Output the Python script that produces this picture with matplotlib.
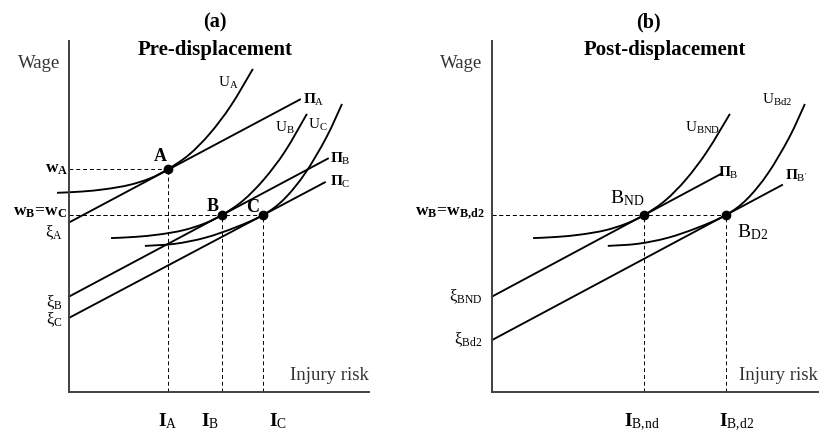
import numpy as np
import matplotlib
matplotlib.use('Agg')
import matplotlib.pyplot as plt
from matplotlib.path import Path
from matplotlib.patches import PathPatch

###############################################################################
# Data (x = injury risk, y = wage, arbitrary units, origin at axes corner)
###############################################################################

# panel (a) - pre-displacement
I_pre = [33.0, 51.0, 64.7]          # I_A, I_B, I_C
w_pre = [74.3, 59.0, 59.0]          # w_A, w_B, w_C

# iso-profit lines: (x0, y0, x1, y1)
PiA = [0.0, 56.5, 77.0, 97.5]
PiB = [0.0, 31.8, 86.3, 77.8]
PiC = [0.0, 24.7, 85.3, 69.9]

# indifference curves, points
UA_x = [-4.0, 4.0, 12.0, 20.0, 27.0, 33.0, 40.0, 47.0, 54.0, 61.3]
UA_y = [66.4, 66.8, 67.6, 69.0, 71.2, 74.3, 79.1, 86.2, 95.5, 107.7]
UB_x = [14.0, 22.0, 30.0, 38.0, 45.0, 51.0, 58.0, 65.0, 72.0, 79.3]
UB_y = [51.3, 51.7, 52.5, 53.9, 56.1, 59.0, 63.8, 70.9, 80.2, 92.7]
UC_x = [25.3, 35.3, 45.3, 55.3, 64.7, 71.7, 78.7, 85.7, 91.0]
UC_y = [48.7, 49.4, 51.4, 54.8, 59.0, 64.3, 72.9, 84.7, 96.0]

# panel (b) - post-displacement
I_post = [50.7, 78.0]               # I_B,nd, I_B,d2
w_post = [59.0, 59.0]

PiB2 = [0.0, 31.8, 76.7, 72.9]
PiBp = [0.0, 17.3, 96.7, 69.0]

UBND_x = [13.7, 21.7, 29.7, 37.7, 44.7, 50.7, 57.7, 64.7, 71.7, 79.3]
UBND_y = [51.3, 51.7, 52.5, 53.9, 56.1, 59.0, 63.8, 70.9, 80.2, 92.7]
UBd2_x = [38.6, 48.6, 58.6, 68.6, 78.0, 85.0, 92.0, 99.0, 104.3]
UBd2_y = [48.7, 49.4, 51.4, 54.8, 59.0, 64.3, 72.9, 84.7, 96.0]

###############################################################################
# Style
###############################################################################

plt.rcParams['font.family'] = ['Liberation Serif', 'DejaVu Serif']
plt.rcParams['mathtext.fontset'] = 'custom'
plt.rcParams['mathtext.rm'] = 'Liberation Serif'
plt.rcParams['mathtext.bf'] = 'Liberation Serif:bold'
plt.rcParams['mathtext.it'] = 'Liberation Serif:italic'

W, H = 823., 440.
lw = 1.35
axcol = '#404040'
gray = '#333333'
dash = (0, (4, 3))

fig = plt.figure(figsize=(W/100, H/100), dpi=100)

def make_ax(left, right):
    ax = fig.add_axes([left/W, (H-392)/H, (right-left)/W, 351/H])
    ax.set_xlim(0, (right-left)/3.)
    ax.set_ylim(0, 117)
    for s in ['top', 'right']:
        ax.spines[s].set_visible(False)
    for s in ['left', 'bottom']:
        ax.spines[s].set_color(axcol)
        ax.spines[s].set_linewidth(1.4)
    ax.set_xticks([])
    ax.set_yticks([])
    ax.patch.set_alpha(0)
    return ax

def line(ax, L):
    ax.plot([L[0], L[2]], [L[1], L[3]], color='k', lw=lw, clip_on=False)

def curve(ax, x, y):
    # smooth bezier path through the read points
    p = np.column_stack([x, y])
    verts = [p[0]]
    codes = [Path.MOVETO]
    for i in range(len(p)-1):
        p0 = p[i-1] if i > 0 else p[i]
        p3 = p[i+2] if i+2 < len(p) else p[i+1]
        verts += [p[i] + (p[i+1]-p0)/6., p[i+1] - (p3-p[i])/6., p[i+1]]
        codes += [Path.CURVE4]*3
    ax.add_patch(PathPatch(Path(verts, codes), fc='none', ec='k', lw=lw, clip_on=False))

def guides(ax, I, w):
    for xi, wi in zip(I, w):
        ax.plot([xi, xi], [0, wi], ls=dash, color='k', lw=0.7)
        ax.plot([0, xi], [wi, wi], ls=dash, color='k', lw=0.7)
    ax.plot(I, w, 'o', color='k', ms=6, clip_on=False, zorder=5)

###############################################################################
# Panel (a)
###############################################################################

ax1 = make_ax(69, 369)
guides(ax1, I_pre, w_pre)
for L in [PiA, PiB, PiC]:
    line(ax1, L)
curve(ax1, UA_x, UA_y)
curve(ax1, UB_x, UB_y)
curve(ax1, UC_x, UC_y)

ax1.text(-3, 109.5, 'Wage', ha='right', va='center', fontsize=13.5, color=gray)
ax1.text(100, 5.5, 'Injury risk', ha='right', va='center', fontsize=13.5, color=gray)
ax1.text(53, 103, r'$\mathrm{U}_{\mathrm{A}}$', ha='center', va='center', fontsize=11)
ax1.text(72, 88, r'$\mathrm{U}_{\mathrm{B}}$', ha='center', va='center', fontsize=11)
ax1.text(83, 89, r'$\mathrm{U}_{\mathrm{C}}$', ha='center', va='center', fontsize=11)
ax1.text(78, 97.3, r'$\mathbf{Π}_{\mathrm{A}}$', ha='left', va='center', fontsize=11)
ax1.text(87, 77.7, r'$\mathbf{Π}_{\mathrm{B}}$', ha='left', va='center', fontsize=11)
ax1.text(87, 70.0, r'$\mathbf{Π}_{\mathrm{C}}$', ha='left', va='center', fontsize=11)
ax1.text(30.3, 78.5, 'A', ha='center', va='center', fontsize=13, fontweight='bold')
ax1.text(48.0, 61.8, 'B', ha='center', va='center', fontsize=13, fontweight='bold')
ax1.text(61.3, 61.5, 'C', ha='center', va='center', fontsize=13, fontweight='bold')
ax1.text(-0.3, 74.5, r'$\mathbf{w}_{\mathbf{A}}$', ha='right', va='center', fontsize=12.5)
ax1.text(-0.5, 60.0, r'$\mathbf{w}_{\mathbf{B}}\!\mathbf{=}\!\mathbf{w}_{\mathbf{C}}$',
         ha='right', va='center', fontsize=12.5)
ax1.text(-2, 53, r'$\mathrm{ξ}_{\mathrm{A}}$', ha='right', va='center', fontsize=12)
ax1.text(-2, 29.7, r'$\mathrm{ξ}_{\mathrm{B}}$', ha='right', va='center', fontsize=12)
ax1.text(-2, 24.0, r'$\mathrm{ξ}_{\mathrm{C}}$', ha='right', va='center', fontsize=12)
ax1.text(33, -9.7, r'$\mathbf{I}_{\mathrm{A}}$', ha='center', va='center', fontsize=14)
ax1.text(47, -9.7, r'$\mathbf{I}_{\mathrm{B}}$', ha='center', va='center', fontsize=14)
ax1.text(69.7, -9.7, r'$\mathbf{I}_{\mathrm{C}}$', ha='center', va='center', fontsize=14)

###############################################################################
# Panel (b)
###############################################################################

ax2 = make_ax(492, 818)
guides(ax2, I_post, w_post)
line(ax2, PiB2)
line(ax2, PiBp)
curve(ax2, UBND_x, UBND_y)
curve(ax2, UBd2_x, UBd2_y)

ax2.text(-3.3, 109.5, 'Wage', ha='right', va='center', fontsize=13.5, color=gray)
ax2.text(108.7, 5.5, 'Injury risk', ha='right', va='center', fontsize=13.5, color=gray)
ax2.text(70.3, 88, r'$\mathrm{U}_{\mathrm{BND}}$', ha='center', va='center', fontsize=11)
ax2.text(95, 97.3, r'$\mathrm{U}_{\mathrm{Bd2}}$', ha='center', va='center', fontsize=11)
ax2.text(75.3, 73, r'$\mathbf{Π}_{\mathrm{B}}$', ha='left', va='center', fontsize=11)
ax2.text(97.7, 72, r"$\mathbf{Π}_{\mathrm{B'}}$", ha='left', va='center', fontsize=11)
ax2.text(45, 64.7, r'$\mathrm{B}_{\mathrm{ND}}$', ha='center', va='center', fontsize=14)
ax2.text(87, 53.3, r'$\mathrm{B}_{\mathrm{D2}}$', ha='center', va='center', fontsize=14)
ax2.text(-2.3, 59.7, r'$\mathbf{w}_{\mathbf{B}}\!\mathbf{=}\!\mathbf{w}_{\mathbf{B{,}d2}}$',
         ha='right', va='center', fontsize=12.5)
ax2.text(-3.3, 31.7, r'$\mathrm{ξ}_{\mathrm{BND}}$', ha='right', va='center', fontsize=12)
ax2.text(-3.3, 17.3, r'$\mathrm{ξ}_{\mathrm{Bd2}}$', ha='right', va='center', fontsize=12)
ax2.text(50, -10, r'$\mathbf{I}_{\mathrm{B{,}nd}}$', ha='center', va='center', fontsize=14)
ax2.text(81.7, -10, r'$\mathbf{I}_{\mathrm{B{,}d2}}$', ha='center', va='center', fontsize=14)

###############################################################################
# Titles
###############################################################################

fig.text(215/W, 1-22/H, '(a)', ha='center', va='center', fontsize=14.5, fontweight='bold')
fig.text(215/W, 1-50/H, 'Pre-displacement', ha='center', va='center', fontsize=15, fontweight='bold')
fig.text(648/W, 1-22/H, '(b)', ha='center', va='center', fontsize=14.5, fontweight='bold')
fig.text(665/W, 1-50/H, 'Post-displacement', ha='center', va='center', fontsize=15, fontweight='bold')

fig.savefig('out.png', dpi=100)
